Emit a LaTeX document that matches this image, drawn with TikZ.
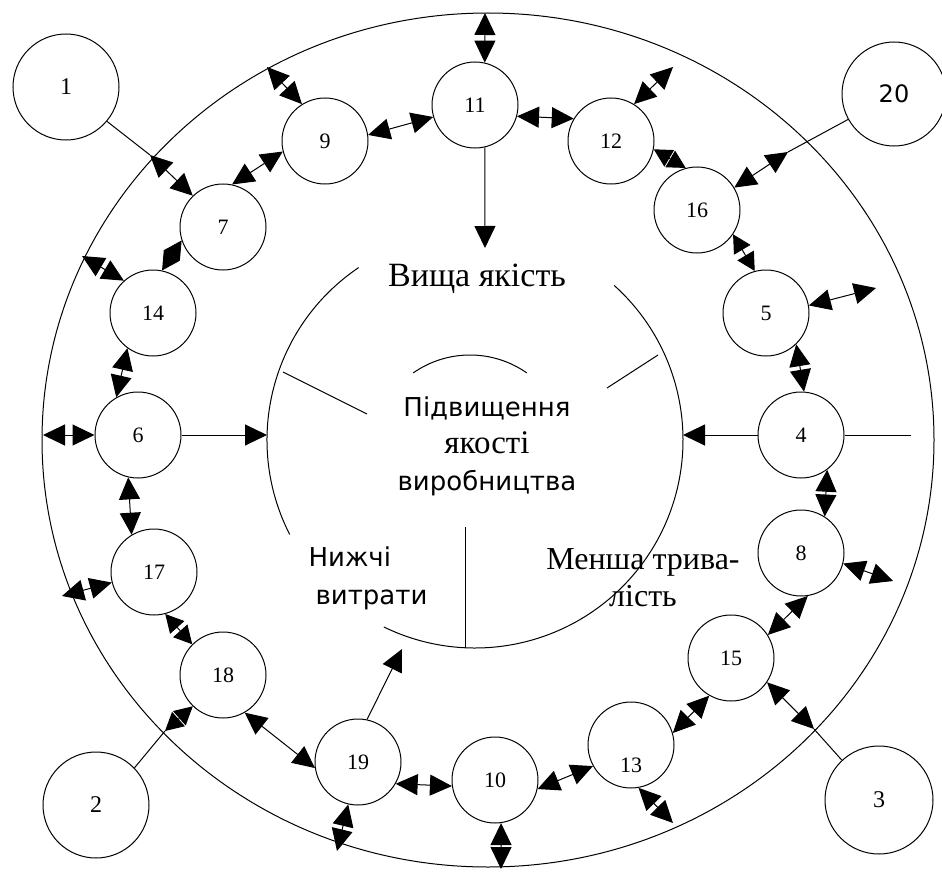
\documentclass[tikz,border=0pt]{standalone}
\usepackage{fontspec}
\setmainfont{Liberation Serif}
\setsansfont{DejaVu Sans}
\usetikzlibrary{arrows.meta}
\tikzset{bigtri/.tip={Triangle[length=22pt,width=21pt]},
    smalltri/.tip={Triangle[length=18pt,width=19pt]}}
\begin{document}
\begin{tikzpicture}[x=1pt,y=-1pt]
        \useasboundingbox (0,0) rectangle (942,872);
        % outer ring and inner circle
        \begin{scope}[line width=1pt]
            \draw (488,440) ellipse [x radius=446pt,y radius=427pt];
            \draw ([shift={(124:208pt)}]475,440) arc[start angle=124,end angle=207,radius=208pt];
            \draw ([shift={(48:208pt)}]475,440) arc[start angle=48,end angle=-116,radius=208pt];
            \draw ([shift={(55:99pt)}]470,454) arc[start angle=55,end angle=125,radius=99pt];
            \draw (283,372) -- (367,414);
            \draw (658,355) -- (607,388);
            \draw (465,527) -- (465,648);
        \end{scope}

        \node[font=\fontsize{34}{37}\selectfont] (top) at (477,279) {Вища якість};
        \node[align=center,font=\sffamily\fontsize{26}{37}\selectfont] (core) at (487,446)
            {Підвищення\\{\rmfamily\fontsize{33}{37}\selectfont якості}\\виробництва};
        \node[align=left,inner sep=0pt,font=\sffamily\fontsize{26}{38}\selectfont] (cost) at (368,578)
            {Нижчі\\\hspace*{7pt}витрати};
        \node[align=center,inner sep=0pt,font=\fontsize{32}{37}\selectfont] (time) at (643,578)
            {Менша трива-\\лість};

        \begin{scope}[every node/.style={circle,draw,line width=1pt,minimum size=86pt,inner sep=0pt,font=\fontsize{22}{22}\selectfont}]
            \node (n11) at (475,105) {11};
            \node (n12) at (611,141) {12};
            \node (n16) at (697,210) {16};
            \node (n5)  at (766,313) {5};
            \node (n4)  at (801,435) {4};
            \node (n8)  at (801,553) {8};
            \node (n15) at (731,658) {15};
            \node (n13) at (631,745) {\raisebox{-55pt}{13}};
            \node (n10) at (495,780) {10};
            \node (n19) at (358,762) {19};
            \node (n18) at (223,675) {18};
            \node (n17) at (154,572) {17};
            \node (n6)  at (138,435) {6};
            \node (n14) at (153,313) {14};
            \node (n7)  at (223,227) {7};
            \node (n9)  at (325,141) {9};

            \node[minimum size=106pt,font=\fontsize{24}{24}\selectfont] (n1)  at (66,87)   {1};
            \node[minimum size=106pt,font=\fontsize{24}{24}\selectfont] (n2)  at (96,805)  {2};
            \node[minimum size=108pt,font=\fontsize{24}{24}\selectfont] (n3)  at (879,800) {3};
            \node[minimum size=104pt,font=\sffamily\fontsize{24}{24}\selectfont] (n20) at (894,94) {20};
        \end{scope}

        % ends on the outer ring and free ends
        \coordinate (e9)  at (267,67);
        \coordinate (e11) at (485,13);
        \coordinate (e12) at (673,67);
        \coordinate (e5)  at (876,288);
        \coordinate (e8)  at (893,581);
        \coordinate (e13) at (673,823);
        \coordinate (e10) at (501,869);
        \coordinate (e19) at (337,851);
        \coordinate (e17) at (62,596);
        \coordinate (e6)  at (43,435);
        \coordinate (e14) at (82,256);
        \coordinate (m1)  at (150,155);
        \coordinate (m2)  at (165,731);
        \coordinate (m3)  at (814,729);
        \coordinate (m20) at (788,152);
        \coordinate (c6)  at (267,435);
        \coordinate (c4)  at (683,435);
        \coordinate (c11) at (485,248);
        \coordinate (c19) at (402,649);
        \coordinate (r4)  at (911,435);

        \begin{scope}[line width=1pt,bigtri-bigtri]
            \draw (n9.122) -- (e9);
            \draw (n9.8) -- (n11.196);
            \draw (n7.78) -- (n9.194);
            \draw (e14) -- (n14.132);
            \draw (n14.234) -- (n6.120);
            \draw (e6) -- (n6.west);
            \draw (n6.257) -- (n17.121);
            \draw (e17) -- (n17.194);
            \draw (n18.-60) -- (n19.188);
            \draw (n19.-30) -- (n10.188);
            \draw (n19.257) -- (e19);
            \draw (n10.-82) -- (e10);
            \draw (n10.-12) -- (n13.209);
            \draw (n13.-80) -- (e13);
            \draw (n13.16) -- (n15.240);
            \draw (m3) -- (n15.-34);
            \draw (n15.32) -- (n8.-81);
            \draw (n8.-14) -- (e8);
            \draw (n4.-53) -- (n8.57);
            \draw (n5.-46) -- (n4.86);
            \draw (n5.10) -- (e5);
            \draw (m20) -- (n16.31);
            \draw (n12.58) -- (e12);
            \draw (n11.-15) -- (n12.149);
            \draw (n11.77) -- (e11);
            \draw (m1) -- (n7.134);
        \end{scope}
        \begin{scope}[line width=1pt,smalltri-smalltri]
            \draw (n14.78) -- (n7.198);
            \draw (n17.-75) -- (n18.135);
            \draw (m2) -- (n18.226);
            \draw (n5.105) -- (n16.-34);
            \draw (n16.105) -- (n12.-11);
        \end{scope}
        \begin{scope}[line width=1pt,-bigtri]
            \draw (n6.east) -- (c6);
            \draw (n4.west) -- (c4);
            \draw (n11.-77) -- (c11);
            \draw (n19.78) -- (c19);
        \end{scope}
        \begin{scope}[line width=1pt]
            \draw (n1.-40) -- (m1);
            \draw (n2.44) -- (m2);
            \draw (n3.133) -- (m3);
            \draw (n20.209) -- (m20);
            \draw (n4.east) -- (r4);
        \end{scope}
    \end{tikzpicture}
\end{document}
